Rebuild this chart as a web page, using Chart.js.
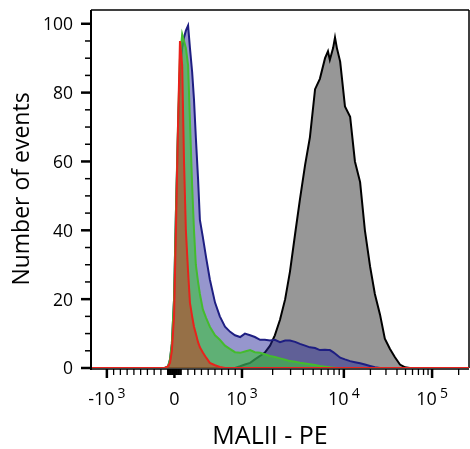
<!DOCTYPE html>
<html>
<head>
<meta charset="utf-8">
<script src="https://cdn.jsdelivr.net/npm/chart.js@4.4.0/dist/chart.umd.min.js"></script>
<style>
  html, body { margin: 0; padding: 0; background: #fff; }
  #wrap { width: 470px; height: 449px; }
</style>
</head>
<body>
<div id="wrap"><canvas id="chart"></canvas></div>
<script>
// display channels (0-1024) of the biexponential MALII-PE axis
const channels = [0, 200, 209, 214, 219, 225, 230, 236, 241, 247, 252, 257, 263, 268, 274, 279, 284, 290, 295, 303,
  312, 322, 336, 349, 363, 377, 390, 404, 417, 431, 444, 458, 471, 485, 498, 512, 526, 539, 553, 566,
  580, 593, 607, 620, 634, 642, 647, 656, 661, 666, 675, 688, 702, 715, 729, 742, 756, 769, 783, 796,
  810, 823, 837, 851, 864, 1024];

// event counts per channel, one list per sample
const countsRed = [0, 0, 0.5, 1.5, 5, 15, 40, 72, 95, 88, 60, 40, 28, 19, 15, 12, 10, 7.5, 6, 4.5,
  3, 1.5, 0.8, 0.3, 0, 0, 0, 0, 0, 0, 0, 0, 0, 0, 0, 0, 0, 0, 0, 0,
  0, 0, 0, 0, 0, 0, 0, 0, 0, 0, 0, 0, 0, 0, 0, 0, 0, 0, 0, 0,
  0, 0, 0, 0, 0, 0];
const countsGreen = [0, 0, 0.5, 2.5, 7, 20, 45, 72, 90, 97, 95, 93, 88, 72, 53, 40, 30, 25, 21.5, 17,
  14.5, 12, 9.5, 8.2, 6.5, 5.5, 4.6, 4.4, 4.8, 5.2, 4.6, 4.4, 4, 3.5, 3.2, 2.8, 2.4, 2, 1.8, 1.5,
  1.3, 1.1, 0.9, 0.6, 0.4, 0.3, 0.2, 0.1, 0.1, 0, 0, 0, 0, 0, 0, 0, 0, 0, 0, 0,
  0, 0, 0, 0, 0, 0];
const countsBlue = [0, 0, 0.5, 2.5, 7, 20, 45, 70, 86, 93, 96, 98, 99.5, 93, 86, 78, 67, 55, 43, 38,
  32, 25.7, 19, 15, 12, 10.5, 9.5, 9, 10, 9.5, 9, 8.2, 8.2, 8, 8.2, 7.5, 8, 8, 7.6, 7,
  6.5, 6, 5.8, 5.2, 5.3, 5.2, 5.2, 4.6, 4.2, 3.8, 3, 2.5, 2, 1.7, 1.4, 1, 0.6, 0.2, 0, 0,
  0, 0, 0, 0, 0, 0];
const countsGray = [0, 0, 0, 0, 0, 0, 0, 0, 0, 0, 0, 0, 0, 0, 0, 0, 0, 0, 0, 0,
  0, 0, 0, 0, 0, 0, 0, 0.5, 1, 1.5, 2.5, 3.5, 4.5, 6.5, 9.5, 14, 20, 28, 39, 49,
  59, 67, 81, 84, 90, 92, 89.5, 93, 96, 93, 89, 76, 73, 60, 54, 40, 29.5, 21.5, 15.5, 8.5,
  5.5, 3.2, 1, 0.2, 0, 0];

const xTickValues = [-1000, 0, 1000, 10000, 100000];
const xTickBase = ['-10', '0', '10', '10', '10'];
const xTickExp = ['3', '', '3', '4', '5'];
const yTickValues = [0, 20, 40, 60, 80, 100];
const xTitle = 'MALII - PE';

const FONT = '"Open Sans", sans-serif';

// biexponential display: linear around zero, log above 10^3
function toChannel(v) {
  if (v <= 1000) return 226 + v * 0.183;
  if (v <= 10000) return 409 + Math.log10(v / 1000) * 276;
  return 685 + Math.log10(v / 10000) * 239;
}

function minorTickValues() {
  const vals = [];
  for (let k = 1; k <= 9; k++) {
    vals.push(-k * 100, -k * 10, k * 10, k * 100, k * 1000, k * 10000);
  }
  vals.push(200000);
  return vals.filter(v => !xTickValues.includes(v));
}

function points(counts) {
  return channels.map((c, i) => ({ x: c, y: counts[i] }));
}

const axisMarks = {
  id: 'axisMarks',
  beforeDatasetsDraw(chart) {
    const { ctx, chartArea: a } = chart;
    ctx.save();
    ctx.strokeStyle = '#000';
    ctx.lineWidth = 1.5;
    ctx.beginPath();
    ctx.moveTo(a.left, a.top);
    ctx.lineTo(a.right, a.top);
    ctx.moveTo(a.left, a.bottom + 1);
    ctx.lineTo(a.right, a.bottom + 1);
    ctx.moveTo(a.right, a.top);
    ctx.lineTo(a.right, a.bottom);
    ctx.stroke();
    ctx.restore();
  },
  afterDraw(chart) {
    const { ctx, chartArea: a } = chart;
    const xs = chart.scales.x;
    const ys = chart.scales.y;
    ctx.save();
    ctx.strokeStyle = '#000';
    ctx.fillStyle = '#000';

    // left axis line
    ctx.lineWidth = 2;
    ctx.beginPath();
    ctx.moveTo(a.left, a.top);
    ctx.lineTo(a.left, a.bottom + 2);
    ctx.stroke();

    // y ticks
    for (let v = 0; v <= 100; v += 5) {
      const y = ys.getPixelForValue(v);
      const major = v % 20 === 0;
      ctx.lineWidth = major ? 2.5 : 1.5;
      ctx.beginPath();
      ctx.moveTo(a.left - (major ? 10 : 6), y);
      ctx.lineTo(a.left, y);
      ctx.stroke();
    }

    // y labels
    ctx.font = '17.5px ' + FONT;
    ctx.textAlign = 'right';
    ctx.textBaseline = 'middle';
    yTickValues.forEach(v => {
      ctx.fillText(String(v), a.left - 18, ys.getPixelForValue(v) + 1.5);
    });

    // x minor ticks
    ctx.lineWidth = 1.3;
    minorTickValues().forEach(v => {
      const x = xs.getPixelForValue(toChannel(v));
      if (x < a.left || x > a.right) return;
      ctx.beginPath();
      ctx.moveTo(x, a.bottom + 1);
      ctx.lineTo(x, a.bottom + 7);
      ctx.stroke();
    });

    // x major ticks and labels
    ctx.textBaseline = 'alphabetic';
    xTickValues.forEach((v, i) => {
      const x = xs.getPixelForValue(toChannel(v));
      ctx.lineWidth = 2.5;
      ctx.beginPath();
      ctx.moveTo(x, a.bottom + 1);
      ctx.lineTo(x, a.bottom + 10);
      ctx.stroke();

      ctx.font = '18px ' + FONT;
      const wb = ctx.measureText(xTickBase[i]).width;
      ctx.font = '14px ' + FONT;
      const we = xTickExp[i] ? ctx.measureText(xTickExp[i]).width + 3 : 0;
      const left = x - (wb + we) / 2;
      ctx.textAlign = 'left';
      ctx.font = '18px ' + FONT;
      ctx.fillText(xTickBase[i], left, 405);
      if (xTickExp[i]) {
        ctx.font = '14px ' + FONT;
        ctx.fillText(xTickExp[i], left + wb + 3, 398);
      }
    });

    // x title
    ctx.font = '25px ' + FONT;
    ctx.textAlign = 'center';
    ctx.fillText(xTitle, 270, 444);
    ctx.restore();
  }
};

Chart.defaults.font.family = FONT;
Chart.defaults.color = '#000';

new Chart(document.getElementById('chart'), {
  type: 'line',
  data: {
    datasets: [
      { label: 'red', data: points(countsRed), borderColor: '#e8221c', backgroundColor: 'rgba(205,50,25,0.5)' },
      { label: 'green', data: points(countsGreen), borderColor: '#44bb2e', backgroundColor: 'rgba(60,195,60,0.6)' },
      { label: 'blue', data: points(countsBlue), borderColor: '#1e1e82', backgroundColor: 'rgba(36,36,150,0.48)' },
      { label: 'gray', data: points(countsGray), borderColor: '#000000', backgroundColor: '#979797' }
    ].map(d => Object.assign(d, { fill: 'origin', pointRadius: 0, borderWidth: 2, tension: 0 }))
  },
  options: {
    responsive: true,
    maintainAspectRatio: false,
    animation: false,
    layout: { padding: { top: 10, right: 1, left: 0, bottom: 0 }, autoPadding: false },
    plugins: { legend: { display: false }, tooltip: { enabled: false } },
    scales: {
      x: {
        type: 'linear',
        min: 0,
        max: 1024,
        grid: { display: false, drawTicks: false },
        border: { display: false },
        ticks: { display: false },
        afterFit(scale) { scale.height = 81; }
      },
      y: {
        min: 0,
        max: 104,
        grid: { display: false, drawTicks: false },
        border: { display: false },
        afterBuildTicks(scale) { scale.ticks = yTickValues.map(v => ({ value: v })); },
        ticks: { display: false },
        title: { display: true, text: 'Number of events', font: { size: 23 }, padding: { top: 9, bottom: 0 } },
        afterFit(scale) { scale.width = 91; scale.paddingTop = 0; scale.paddingBottom = 0; }
      }
    }
  },
  plugins: [axisMarks]
});
</script>
</body>
</html>
